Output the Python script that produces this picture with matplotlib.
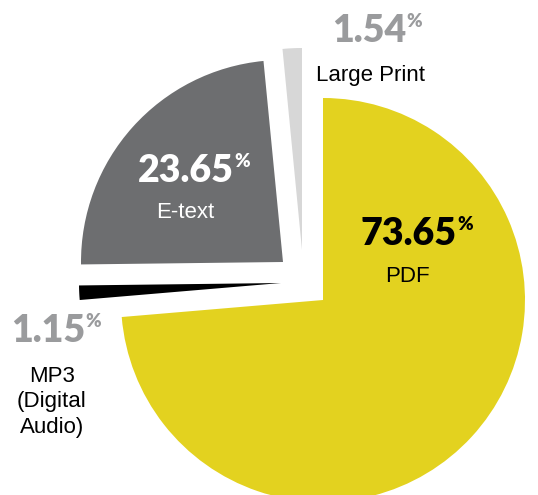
import matplotlib.pyplot as plt

# share of accessible format requests
formats = ['PDF', 'MP3\n(Digital\nAudio)', 'E-text', 'Large Print']
shares = [73.65, 1.15, 23.65, 1.54]
colors = ['#E3D21F', '#000000', '#6D6E70', '#D7D7D7']

# where each slice is pulled away from the centre (pixels)
shifts = [(0, 0), (-42, 17), (-40, 38), (-21, 50)]

W, H = 538, 495
CENTER = (323, 195)
RADIUS = 202

numFont = dict(family=['Lato', 'DejaVu Sans'], fontweight='heavy')
labelFont = dict(family=['Liberation Sans', 'DejaVu Sans'])


def percentLabel(ax, x, y, value, color, size=27):
    num = ax.text(x, y, f'{value:.2f}', ha='center', va='center',
                  color=color, fontsize=size, **numFont)
    ax.annotate('%', xy=(1, 1), xycoords=num, xytext=(0.5, 0.5),
                textcoords='offset points', ha='left', va='top',
                color=color, fontsize=size * 0.5, **numFont)


def main():
    fig = plt.figure(figsize=(W / 100, H / 100), dpi=100)
    ax = fig.add_axes([0, 0, 1, 1])

    wedges, _ = ax.pie(shares, colors=colors, startangle=90, counterclock=False,
                       center=CENTER, radius=RADIUS,
                       wedgeprops=dict(linewidth=0))
    for wedge, (dx, dy) in zip(wedges, shifts):
        wedge.set_center((CENTER[0] + dx, CENTER[1] + dy))

    ax.set_xlim(0, W)
    ax.set_ylim(0, H)
    ax.set_aspect('equal')
    ax.axis('off')

    # PDF
    percentLabel(ax, 409, H - 234, shares[0], 'black')
    ax.text(407, H - 277, formats[0], ha='center', va='center',
            fontsize=16, color='black', **labelFont)

    # E-text
    percentLabel(ax, 186, H - 171, shares[2], 'white')
    ax.text(185, H - 213, formats[2], ha='center', va='center',
            fontsize=16, color='white', **labelFont)

    # Large Print
    percentLabel(ax, 369, H - 31, shares[3], '#9A9B9D')
    ax.text(371, H - 75, formats[3], ha='center', va='center',
            fontsize=16, color='black', **labelFont)

    # MP3
    percentLabel(ax, 48, H - 331, shares[1], '#9A9B9D')
    ax.text(52, H - 402, formats[1], ha='center', va='center',
            fontsize=16, color='black', linespacing=1.3, **labelFont)

    fig.savefig('out.png', dpi=100)


if __name__ == "__main__":
    main()
